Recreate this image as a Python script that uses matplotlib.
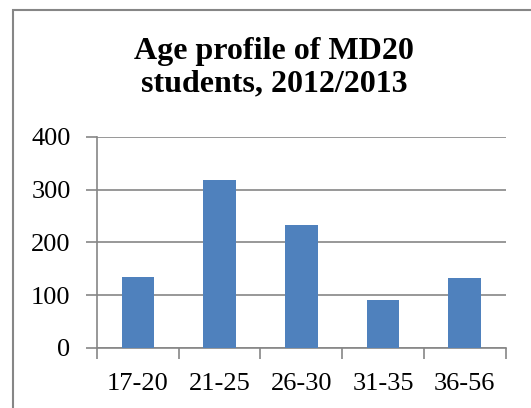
import matplotlib.pyplot as plt
from matplotlib.patches import Rectangle

# Altersgruppen und Anzahl Studierende
age_groups = ['17-20', '21-25', '26-30', '31-35', '36-56']
students = [134, 319, 234, 91, 133]

plt.rcParams['font.family'] = ['Liberation Serif', 'DejaVu Serif']

fig = plt.figure(figsize=(5.31, 4.08), dpi=100)
ax = fig.add_axes([97 / 531, 1 - 348 / 408, (505.7 - 97) / 531, (348 - 137) / 408])

x = range(len(age_groups))
ax.bar(x, students, width=0.4, color='#4F81BD', zorder=3)

ax.set_xlim(-0.5, len(age_groups) - 0.5)
ax.set_ylim(0, 400)
ax.set_yticks(range(0, 401, 100))
ax.yaxis.grid(True, color='#868686', linewidth=1.2, zorder=0)

# Kategorie-Trennstriche auf der x-Achse
ax.set_xticks([i - 0.5 for i in range(len(age_groups) + 1)], minor=False)
ax.set_xticklabels([])
ax.set_xticks(list(x), minor=True)
ax.set_xticklabels(age_groups, minor=True, fontsize=19)
ax.tick_params(axis='x', which='major', length=8, color='#868686', width=1.2, direction='out')
ax.tick_params(axis='x', which='minor', length=0, pad=18)
ax.tick_params(axis='y', length=8, color='#868686', width=1.2, labelsize=19, pad=11)

for side in ['top', 'right']:
    ax.spines[side].set_visible(False)
for side in ['left', 'bottom']:
    ax.spines[side].set_color('#868686')
    ax.spines[side].set_linewidth(1.2)

fig.text(274 / 531, 1 - 68 / 408, 'Age profile of MD20\nstudents, 2012/2013',
         ha='center', va='center', fontsize=23, fontweight='bold', linespacing=1.15)

# Rahmen um das Diagramm (rechts und unten abgeschnitten)
fig.patches.append(Rectangle((13 / 531, -0.1), 1.2, 1 - 10 / 408 + 0.1,
                             transform=fig.transFigure, fill=False,
                             edgecolor='#868686', linewidth=1.5))

fig.savefig('out.png', dpi=100)
